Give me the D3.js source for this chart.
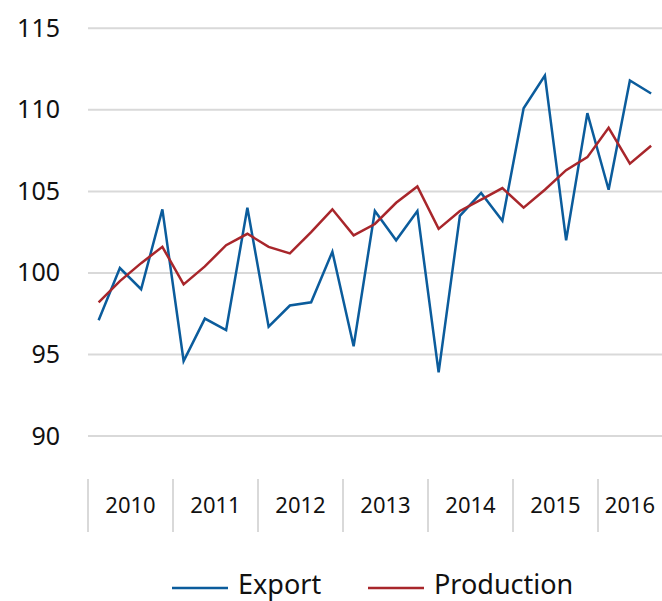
<!DOCTYPE html>
<html>
<head>
<meta charset="utf-8">
<script src="https://cdn.jsdelivr.net/npm/d3@7"></script>
<style>
  body { margin: 0; background: #fff; }
  text { font-family: "Noto Sans", sans-serif; fill: #111; }
</style>
</head>
<body>
<svg width="662" height="601"></svg>
<script>
// quarterly data, 2010 Q1 .. 2016 Q3
const years = ["2010", "2011", "2012", "2013", "2014", "2015", "2016"];
const quartersPerYear = [4, 4, 4, 4, 4, 4, 3];
const exportValues = [
  97.1, 100.3, 99.0, 103.9,
  94.6, 97.2, 96.5, 104.0,
  96.7, 98.0, 98.2, 101.3,
  95.5, 103.8, 102.0, 103.8,
  93.9, 103.5, 104.9, 103.2,
  110.1, 112.1, 102.0, 109.8,
  105.1, 111.8, 111.0
];
const productionValues = [
  98.2, 99.5, 100.6, 101.6,
  99.3, 100.4, 101.7, 102.4,
  101.6, 101.2, 102.5, 103.9,
  102.3, 103.0, 104.3, 105.3,
  102.7, 103.8, 104.5, 105.2,
  104.0, 105.1, 106.3, 107.1,
  108.9, 106.7, 107.8
];
const yTicks = [90, 95, 100, 105, 110, 115];
const seriesNames = ["Export", "Production"];
const colors = ["#0b5c9c", "#a8262b"];

const svg = d3.select("svg");
const left = 88, right = 662;
const quarterW = 21.25;

// one slot per quarter, years are 4 slots wide (last year cut off at the edge)
const idx = d3.range(exportValues.length);
const x = d3.scaleBand()
  .domain(d3.range(years.length * 4))
  .range([left, left + years.length * 4 * quarterW]);

const y = d3.scaleLinear()
  .domain([90, 115])
  .range([436, 28.3]);

// gridlines
svg.append("g")
  .selectAll("line")
  .data(yTicks)
  .join("line")
    .attr("x1", left)
    .attr("x2", right)
    .attr("y1", d => y(d))
    .attr("y2", d => y(d))
    .attr("stroke", "#d9d9d9")
    .attr("stroke-width", 2);

// y labels
svg.append("g")
  .selectAll("text")
  .data(yTicks)
  .join("text")
    .attr("x", 60)
    .attr("y", d => y(d) + 8.5)
    .attr("text-anchor", "end")
    .style("font-size", "25px")
    .style("font-variant-numeric", "tabular-nums")
    .text(d => d);

// year separators and labels
let start = 0;
const yearBands = years.map(function(yr, i) {
  const x0 = x(start);
  const xEnd = i == years.length - 1 ? right : x(start + 4);
  start += quartersPerYear[i];
  return { year: yr, x0: x0, x1: xEnd };
});

svg.append("g")
  .selectAll("line")
  .data(yearBands)
  .join("line")
    .attr("x1", d => d.x0)
    .attr("x2", d => d.x0)
    .attr("y1", 479)
    .attr("y2", 532)
    .attr("stroke", "#d9d9d9")
    .attr("stroke-width", 2);

svg.append("g")
  .selectAll("text")
  .data(yearBands)
  .join("text")
    .attr("x", d => (d.x0 + d.x1) / 2)
    .attr("y", 513)
    .attr("text-anchor", "middle")
    .style("font-size", "22px")
    .text(d => d.year);

// lines
const line = d3.line()
  .x(d => x(d[0]) + x.bandwidth() / 2)
  .y(d => y(d[1]));

[exportValues, productionValues].forEach(function(vals, k) {
  svg.append("path")
    .datum(idx.map(i => [i, vals[i]]))
    .attr("fill", "none")
    .attr("stroke", colors[k])
    .attr("stroke-width", 2.5)
    .attr("stroke-linejoin", "miter")
    .attr("d", line);
});

// legend
const legendX = [172, 368];
seriesNames.forEach(function(name, k) {
  svg.append("line")
    .attr("x1", legendX[k])
    .attr("x2", legendX[k] + 56)
    .attr("y1", 588)
    .attr("y2", 588)
    .attr("stroke", colors[k])
    .attr("stroke-width", 2.5);
  svg.append("text")
    .attr("x", legendX[k] + 66)
    .attr("y", 594)
    .style("font-size", "27px")
    .text(name);
});
</script>
</body>
</html>
